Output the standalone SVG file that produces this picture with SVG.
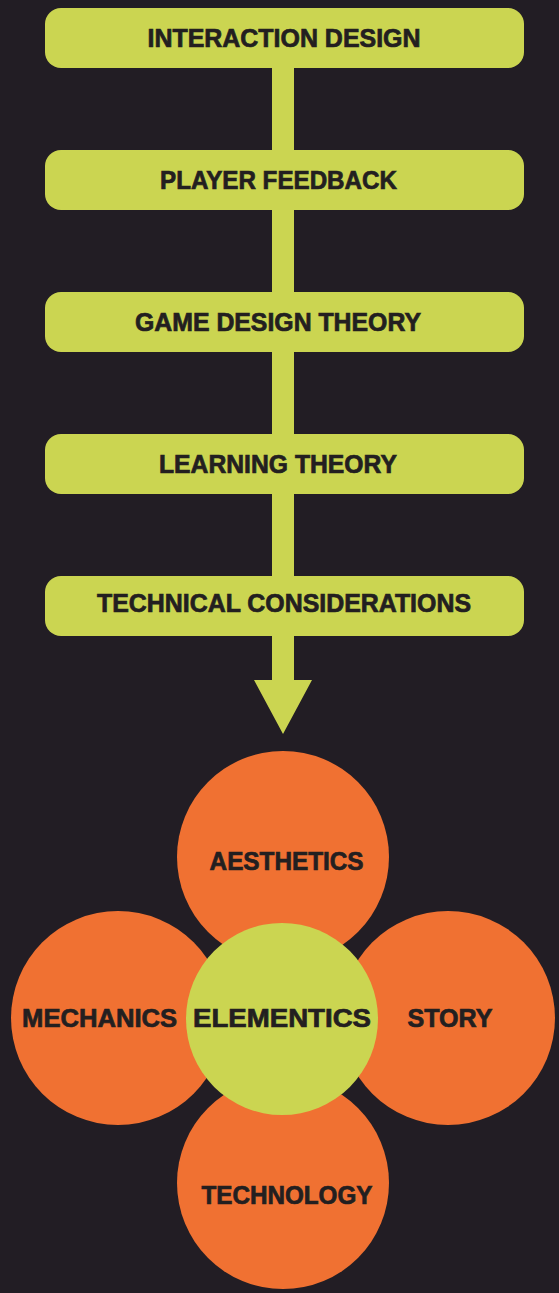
<svg xmlns="http://www.w3.org/2000/svg" width="559" height="1293" viewBox="0 0 559 1293">
<defs>
<style>
.box{fill:#cbd551}
.orange{fill:#f07132}
.green{fill:#cbd551}
.t{font-family:"Liberation Sans",Arial,sans-serif;font-weight:bold;font-size:25px;fill:#231f20;stroke:#231f20;stroke-width:0.7;text-anchor:middle}
</style>
</defs>
<rect x="0" y="0" width="559" height="1293" fill="#221d24"/>
<g id="connectors">
<rect class="box" x="272" y="60" width="22" height="100"/>
<rect class="box" x="272" y="202" width="22" height="100"/>
<rect class="box" x="272" y="344" width="22" height="100"/>
<rect class="box" x="272" y="486" width="22" height="100"/>
<polygon class="box" points="272,628 294,628 294,680 312,680 283,734 254,680 272,680"/>
</g>
<g id="n1"><rect class="box" x="45" y="8" width="479" height="60" rx="16"/><text class="t" x="284" y="47" textLength="273" lengthAdjust="spacingAndGlyphs">INTERACTION DESIGN</text></g>
<g id="n2"><rect class="box" x="45" y="150" width="479" height="60" rx="16"/><text class="t" x="278.5" y="189" textLength="237" lengthAdjust="spacingAndGlyphs">PLAYER FEEDBACK</text></g>
<g id="n3"><rect class="box" x="45" y="292" width="479" height="60" rx="16"/><text class="t" x="278" y="331" textLength="286" lengthAdjust="spacingAndGlyphs">GAME DESIGN THEORY</text></g>
<g id="n4"><rect class="box" x="45" y="434" width="479" height="60" rx="16"/><text class="t" x="278" y="473" textLength="238" lengthAdjust="spacingAndGlyphs">LEARNING THEORY</text></g>
<g id="n5"><rect class="box" x="45" y="576" width="479" height="60" rx="16"/><text class="t" x="284" y="612" textLength="374" lengthAdjust="spacingAndGlyphs">TECHNICAL CONSIDERATIONS</text></g>
<g id="aesthetics"><circle class="orange" cx="283" cy="857" r="106"/><text class="t" x="286.6" y="870" textLength="154" lengthAdjust="spacingAndGlyphs">AESTHETICS</text></g>
<g id="technology"><circle class="orange" cx="283" cy="1183" r="106"/></g>
<g id="mechanics"><circle class="orange" cx="118" cy="1018" r="107"/><text class="t" x="99.6" y="1027" textLength="155" lengthAdjust="spacingAndGlyphs">MECHANICS</text></g>
<g id="story"><circle class="orange" cx="448" cy="1018" r="107"/><text class="t" x="450" y="1027" textLength="85" lengthAdjust="spacingAndGlyphs">STORY</text></g>
<g id="technology-label"><text class="t" x="287" y="1204" textLength="171" lengthAdjust="spacingAndGlyphs">TECHNOLOGY</text></g>
<g id="elementics"><circle class="green" cx="282" cy="1019" r="96"/><text class="t" x="282" y="1027" textLength="178" lengthAdjust="spacingAndGlyphs">ELEMENTICS</text></g>
</svg>
